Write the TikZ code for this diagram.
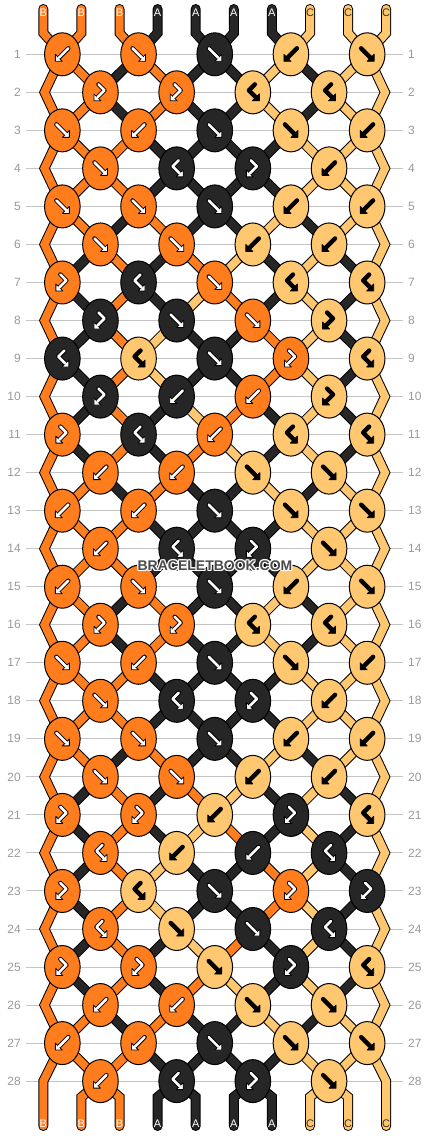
\documentclass[tikz,border=0pt]{standalone}
\usepackage{fontspec}
\setmainfont{Liberation Sans}
\usetikzlibrary{shapes.geometric}
\definecolor{colB}{HTML}{FF7D1C}
\definecolor{colA}{HTML}{262626}
\definecolor{colC}{HTML}{FFC870}
\colorlet{glyB}{white}
\colorlet{glyA}{white}
\colorlet{glyC}{black}
\definecolor{rowline}{HTML}{C4C4C4}
\definecolor{numgray}{HTML}{9A9A9A}
\definecolor{wmgray}{HTML}{4A4A4A}
\definecolor{labC}{HTML}{3A3020}
\tikzset{
  str/.style={draw=black, line width=1pt, double=#1, double distance=8pt, line cap=round, line join=miter},
  knot/.style={ellipse, draw=black, line width=1pt, minimum width=35.6pt, minimum height=43pt, inner sep=0pt},
  rowl/.style={draw=rowline, line width=1pt},
  rownum/.style={text=numgray, font=\fontsize{12}{12}\selectfont, inner sep=0pt},
  strlab/.style={font=\fontsize{11}{11}\selectfont, inner sep=0pt},
  wm/.style={font=\fontsize{14}{14}\selectfont\bfseries, inner sep=0pt},
  gout/.style={draw=black, line width=4.4pt, line cap=round, line join=round},
  gin/.style={draw=#1, line width=2.6pt, line cap=round, line join=round},
  ghead/.style={fill=#1, draw=black, line width=0.8pt, line join=round},
  pics/gF/.style={code={
    \draw[gout] (-6,-6) -- (3.5,3.5);
    \draw[ghead=\gc] (7,7) -- (7,0) -- (0,7) -- cycle;
    \draw[gin=\gc] (-6,-6) -- (3.5,3.5);
  }},
  pics/gK/.style={code={
    \draw[gout] (6,-6) -- (-3.5,3.5);
    \draw[ghead=\gc] (-7,7) -- (-7,0) -- (0,7) -- cycle;
    \draw[gin=\gc] (6,-6) -- (-3.5,3.5);
  }},
  pics/gFK/.style={code={
    \draw[gout] (-2,-8) -- (4,-2) -- (-3,5);
    \draw[ghead=\gc] (-6.5,8.5) -- (-6.5,1.5) -- (0.5,8.5) -- cycle;
    \draw[gin=\gc] (-2,-8) -- (4,-2) -- (-3,5);
  }},
  pics/gKF/.style={code={
    \draw[gout] (2,-8) -- (-4,-2) -- (3,5);
    \draw[ghead=\gc] (6.5,8.5) -- (6.5,1.5) -- (-0.5,8.5) -- cycle;
    \draw[gin=\gc] (2,-8) -- (-4,-2) -- (3,5);
  }}
}
\begin{document}
\begin{tikzpicture}[x=1pt,y=-1pt]
\useasboundingbox (0,0) rectangle (430,1136);
\fill[white] (0,0) rectangle (430,1136);

% row guide lines and numbers
\foreach \rr in {1,...,28} {
  \pgfmathsetmacro\yy{54.3+38.03*(\rr-1)}
  \draw[rowl] (26,\yy) -- (403,\yy);
  \node[rownum, anchor=east] (L\rr) at (21,\yy) {\rr};
  \node[rownum, anchor=west] (R\rr) at (408,\yy) {\rr};
}

% knot positions
\foreach \rr in {1,...,28} {
  \pgfmathsetmacro\yy{54.3+38.03*(\rr-1)}
  \ifodd\rr\relax
    \foreach \kk in {0,...,4} {\coordinate (n\rr-\kk) at ({62.35+76.2*\kk},\yy);}
  \else
    \foreach \kk in {0,...,3} {\coordinate (n\rr-\kk) at ({100.45+76.2*\kk},\yy);}
    \coordinate (eL\rr) at (44.5,\yy);
    \coordinate (eR\rr) at (385,\yy);
  \fi
}
% string end points
\foreach \p in {0,...,9} {
  \coordinate (s\p) at ({43.3+38.1*\p},9);
  \coordinate (u\p) at ({43.3+38.1*\p},33);
  \coordinate (v\p) at ({43.3+38.1*\p},1097);
  \coordinate (w\p) at ({43.3+38.1*\p},1126);
}
\coordinate (v0) at (43.3,1081.1);
\coordinate (v9) at (386.2,1081.1);

% edge strings
\draw[str=colB] (s0) -- (u0)
  \foreach \a/\b in {1/2,3/4,5/6,7/8,9/10,11/12,13/14,15/16,17/18,19/20,21/22,23/24,25/26} { -- (n\a-0) -- (eL\b) }
  -- (n27-0) -- (v0) -- (w0);
\draw[str=colC] (s9) -- (u9)
  \foreach \a/\b in {1/2,3/4,5/6,7/8,9/10,11/12,13/14,15/16,17/18,19/20,21/22,23/24,25/26} { -- (n\a-4) -- (eR\b) }
  -- (n27-4) -- (v9) -- (w9);

% top tails
\foreach \cl [count=\p from 0] in {B,B,B,A,A,A,A,C,C,C} {
  \ifnum\p>0 \ifnum\p<9
    \pgfmathtruncatemacro\ka{floor(\p/2)}
    \draw[str=col\cl] (s\p) -- (u\p) -- (n1-\ka);
  \fi\fi
}
% bottom tails
\foreach \cl [count=\p from 0] in {B,B,B,A,A,A,A,C,C,C} {
  \ifnum\p>0 \ifnum\p<9
    \pgfmathtruncatemacro\ka{floor((\p-1)/2)}
    \draw[str=col\cl] (n28-\ka) -- (v\p) -- (w\p);
  \fi\fi
}

% inner strings
\foreach \rr/\st in {
 1/{B,B,A,B,A,A,C,A,C,C},
 2/{B,B,A,B,A,A,C,A,C,C},
 3/{B,B,B,A,A,A,A,C,C,C},
 4/{B,B,B,A,A,A,A,C,C,C},
 5/{B,B,A,B,A,A,C,A,C,C},
 6/{B,A,B,A,B,C,A,C,A,C},
 7/{B,A,B,A,C,B,A,C,A,C},
 8/{B,A,B,C,A,A,B,C,A,C},
 9/{B,A,B,C,A,A,B,C,A,C},
 10/{B,A,B,A,C,B,A,C,A,C},
 11/{B,A,B,A,B,C,A,C,A,C},
 12/{B,B,A,B,A,A,C,A,C,C},
 13/{B,B,B,A,A,A,A,C,C,C},
 14/{B,B,B,A,A,A,A,C,C,C},
 15/{B,B,A,B,A,A,C,A,C,C},
 16/{B,B,A,B,A,A,C,A,C,C},
 17/{B,B,B,A,A,A,A,C,C,C},
 18/{B,B,B,A,A,A,A,C,C,C},
 19/{B,B,A,B,A,A,C,A,C,C},
 20/{B,A,B,A,B,C,A,C,A,C},
 21/{B,A,B,A,C,B,A,C,A,C},
 22/{B,A,B,C,A,A,B,C,A,C},
 23/{B,A,B,C,A,A,B,C,A,C},
 24/{B,A,B,A,C,B,A,C,A,C},
 25/{B,A,B,A,B,C,A,C,A,C},
 26/{B,B,A,B,A,A,C,A,C,C},
 27/{B,B,B,A,A,A,A,C,C,C}} {
  \pgfmathtruncatemacro\rn{\rr+1}
  \foreach \cl [count=\p from 0] in \st {
    \ifnum\p>0 \ifnum\p<9
      \ifodd\rr\relax
        \pgfmathtruncatemacro\ka{floor(\p/2)}
        \pgfmathtruncatemacro\kb{floor((\p-1)/2)}
      \else
        \pgfmathtruncatemacro\ka{floor((\p-1)/2)}
        \pgfmathtruncatemacro\kb{floor(\p/2)}
      \fi
      \draw[str=col\cl] (n\rr-\ka) -- (n\rn-\kb);
    \fi\fi
  }
}

% knots
\foreach \rr/\row in {
 1/{B/K,B/F,A/F,C/K,C/F},
 2/{B/FK,B/FK,C/KF,C/KF},
 3/{B/F,B/K,A/F,C/F,C/K},
 4/{B/F,A/KF,A/FK,C/K},
 5/{B/F,B/F,A/F,C/K,C/K},
 6/{B/F,B/F,C/K,C/K},
 7/{B/FK,A/KF,B/F,C/KF,C/KF},
 8/{A/FK,A/F,B/F,C/FK},
 9/{A/KF,C/KF,A/F,B/FK,C/KF},
 10/{A/FK,A/K,B/K,C/FK},
 11/{B/FK,A/KF,B/K,C/KF,C/KF},
 12/{B/K,B/K,C/F,C/F},
 13/{B/K,B/K,A/F,C/F,C/F},
 14/{B/K,A/KF,A/FK,C/F},
 15/{B/K,B/F,A/F,C/K,C/F},
 16/{B/FK,B/FK,C/KF,C/KF},
 17/{B/F,B/K,A/F,C/F,C/K},
 18/{B/F,A/KF,A/FK,C/K},
 19/{B/F,B/F,A/F,C/K,C/K},
 20/{B/F,B/F,C/K,C/K},
 21/{B/FK,B/FK,C/K,A/FK,C/KF},
 22/{B/KF,C/K,A/K,A/KF},
 23/{B/FK,C/KF,A/F,B/FK,A/FK},
 24/{B/KF,C/F,A/F,A/KF},
 25/{B/FK,B/FK,C/F,A/FK,C/KF},
 26/{B/K,B/K,C/F,C/F},
 27/{B/K,B/K,A/F,C/F,C/F},
 28/{B/K,A/KF,A/FK,C/F}} {
  \foreach \cl/\ty [count=\kk from 0] in \row {
    \node[knot, fill=col\cl] (K\rr-\kk) at (n\rr-\kk) {};
    \edef\gc{gly\cl}
    \pic at (n\rr-\kk) {g\ty};
  }
}

% string labels
\foreach \cl/\tc [count=\p from 0] in {B/white,B/white,B/white,A/white,A/white,A/white,A/white,C/labC,C/labC,C/labC} {
  \node[strlab, text=\tc] (top\p) at ({43.3+38.1*\p},12.8) {\cl};
  \node[strlab, text=\tc] (bot\p) at ({43.3+38.1*\p},1123.3) {\cl};
}

% watermark
\foreach \dx/\dy [count=\i] in {1/0,-1/0,0/1,0/-1,1/1,1/-1,-1/1,-1/-1} {
  \node[wm, text=white] (wmh\i) at ({215+\dx},{566+\dy}) {BRACELETBOOK.COM};
}
\node[wm, text=wmgray] (wm) at (215,566) {BRACELETBOOK.COM};
\end{tikzpicture}
\end{document}
